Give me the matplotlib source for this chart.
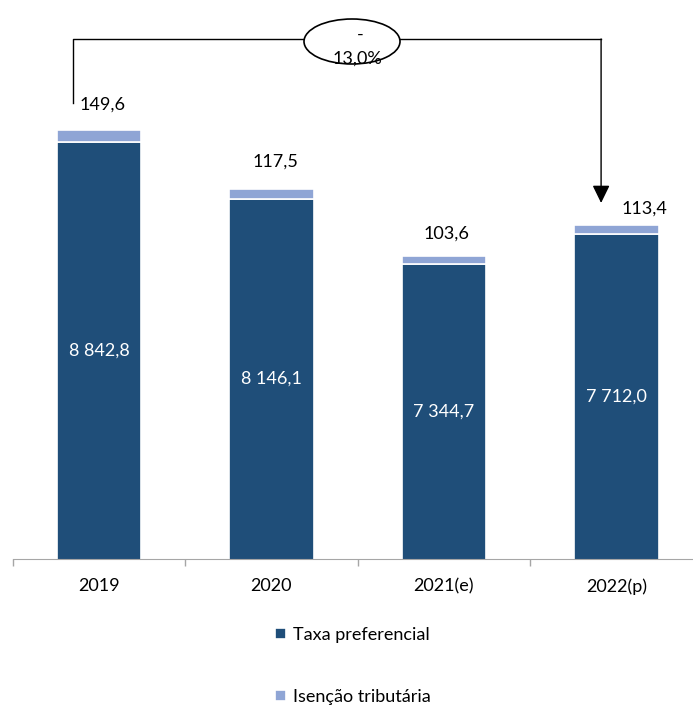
import numpy as np
import matplotlib
matplotlib.use('Agg')
import matplotlib.pyplot as plt
from matplotlib.patches import Ellipse
from matplotlib.transforms import IdentityTransform

plt.rcParams['font.family'] = ['Lato', 'DejaVu Sans']

# Dados
anos = ['2019', '2020', '2021(e)', '2022(p)']
taxa_preferencial = [8842.8, 8146.1, 7344.7, 7712.0]
isencao_tributaria = [149.6, 117.5, 103.6, 113.4]
rotulos_taxa = ['8 842,8', '8 146,1', '7 344,7', '7 712,0']
rotulos_isencao = ['149,6', '117,5', '103,6', '113,4']
variacao = '13,0%'

cor_escura = '#1F4E79'
cor_clara = '#8FA5D5'
fs = 13

fig = plt.figure(figsize=(6.93, 7.06), dpi=100)
ax = fig.add_axes([0.0183, 0.2082, 0.9957, 0.7918])

x = np.arange(len(anos))
ax.bar(x, taxa_preferencial, width=0.49, color=cor_escura, edgecolor='white',
       linewidth=1.2, label='Taxa preferencial', bottom=0)
ax.bar(x, isencao_tributaria, width=0.49, bottom=taxa_preferencial, color=cor_clara,
       edgecolor='white', linewidth=1.2, label='Isenção tributária')

ax.set_xlim(-0.5, 3.5)
ax.set_ylim(3730, 10580)

# rótulos dentro das barras
for i, v in enumerate(taxa_preferencial):
    ax.text(x[i], (3730 + v) / 2, rotulos_taxa[i], color='white', ha='center', va='center', fontsize=fs)

# rótulos acima das barras (deslocamentos em pontos)
desloc = [(2.5, 18), (3, 20), (1.5, 16), (20, 12)]
for i, v in enumerate(isencao_tributaria):
    ax.annotate(rotulos_isencao[i], (x[i], taxa_preferencial[i] + v), xytext=desloc[i],
                textcoords='offset points', ha='center', va='center', fontsize=fs)

# eixos
for s in ['top', 'right', 'left']:
    ax.spines[s].set_visible(False)
ax.spines['bottom'].set_color('#A6A6A6')
ax.set_yticks([])
ax.set_xticks(x)
ax.set_xticklabels(anos, fontsize=fs)
ax.tick_params(axis='x', which='major', length=0, pad=14)
ax.set_xticks(np.arange(-0.5, 4.0, 1.0), minor=True)
ax.tick_params(axis='x', which='minor', length=5, color='#A6A6A6', width=1)

# seta de variação
y_linha = 10102
ax.plot([-0.152, -0.152, 1.194], [9318, y_linha, y_linha], color='black', lw=1)
ax.plot([1.745, 2.911], [y_linha, y_linha], color='black', lw=1)
ax.annotate('', xy=(2.911, 8093), xytext=(2.911, y_linha),
            arrowprops=dict(arrowstyle='-|>,head_length=0.45,head_width=0.22',
                            mutation_scale=24, color='black', lw=1, shrinkA=0, shrinkB=0))
# elipse em pixels da figura (origem em baixo à esquerda)
ax.add_patch(Ellipse((352, 706 - 41.5), 96, 45, facecolor='white', edgecolor='black',
                     lw=1.2, transform=IdentityTransform(), clip_on=False, zorder=3))
ax.text(1.513, 10152, '-', ha='center', va='center', fontsize=fs, zorder=5)
ax.text(1.496, 9857, variacao, ha='center', va='center', fontsize=fs, zorder=5)

# legenda
fig.legend(loc='upper left', bbox_to_anchor=(0.397, 0.112), frameon=False, fontsize=fs,
           handlelength=0.6, handleheight=0.6, handletextpad=0.4, labelspacing=2.55,
           borderpad=0, borderaxespad=0)

plt.savefig('out.png', dpi=100)
